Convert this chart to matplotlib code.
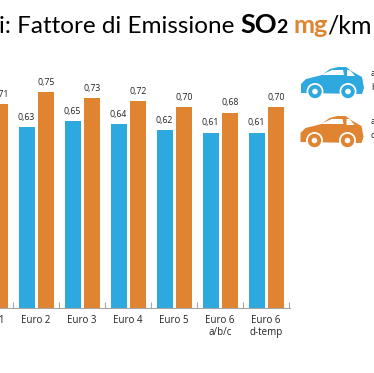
import matplotlib
matplotlib.use('Agg')
import matplotlib.pyplot as plt
import matplotlib.patches as patches
import numpy as np

W, H = 374, 373
BLUE = '#2EA9DF'
ORANGE = '#E08432'

categories = ['Euro 1', 'Euro 2', 'Euro 3', 'Euro 4', 'Euro 5', 'Euro 6\na/b/c', 'Euro 6\nd-temp']
benzina = [0.62, 0.63, 0.65, 0.64, 0.62, 0.61, 0.61]
diesel = [0.71, 0.75, 0.73, 0.72, 0.70, 0.68, 0.70]

fig = plt.figure(figsize=(W / 100, H / 100), dpi=100)
plt.rcParams['font.family'] = ['Open Sans', 'DejaVu Sans']

# chart area runs off the left edge, like the cropped original
ax = fig.add_axes([0, (H - 307.5) / H, 290.5 / W, 240 / H])
x = np.arange(len(categories))
bw = 16 / 46
ax.bar(x - 9.5 / 46, benzina, bw, color=BLUE)
ax.bar(x + 10 / 46, diesel, bw, color=ORANGE)
ax.set_xlim(0.217, 6.53)
ax.set_ylim(0, 240 / 286.7)

for i in range(len(categories)):
    ax.text(x[i] - 10 / 46, benzina[i] + 0.018, f'{benzina[i]:.2f}'.replace('.', ','),
            ha='center', va='bottom', fontsize=6.3, color='#222222')
    ax.text(x[i] + 10 / 46, diesel[i] + 0.018, f'{diesel[i]:.2f}'.replace('.', ','),
            ha='center', va='bottom', fontsize=6.3, color='#222222')

for s in ['top', 'left', 'right']:
    ax.spines[s].set_visible(False)
ax.spines['bottom'].set_color('#a6a6a6')
ax.set_yticks([])
ax.set_xticks(x + 0.5)
ax.set_xticklabels([])
ax.tick_params(axis='x', length=4, width=0.8, color='#a6a6a6', direction='in')
ax.patch.set_alpha(0)

# tick labels sit between the ticks
for i, c in enumerate(categories):
    ax.annotate(c, (x[i], 0), xytext=(0, -5.5), textcoords='offset points', ha='center', va='top',
                fontsize=7, color='#222222', linespacing=1.05, annotation_clip=False)

# overlay in pixel coordinates for title and car icons
ov = fig.add_axes([0, 0, 1, 1])
ov.set_xlim(0, W)
ov.set_ylim(H, 0)
ov.axis('off')
ov.patch.set_alpha(0)

title_parts = [('i: Fattore di Emissione ', 'black', 'normal', 17.5),
               ('SO', 'black', 'bold', 19.5), ('2 ', 'black', 'bold', 14),
               ('mg', ORANGE, 'bold', 18.2), ('/km', 'black', 'normal', 18)]
title_fonts = ['Lato', 'DejaVu Sans']
r = fig.canvas.get_renderer()


def text_w(txt, wgt, fs):
    # spaces at the end are not counted by the extent, so wrap with markers
    a = ov.text(0, 0, 'x' + txt + 'x', fontweight=wgt, fontsize=fs, family=title_fonts)
    b = ov.text(0, 0, 'xx', fontweight=wgt, fontsize=fs, family=title_fonts)
    w = a.get_window_extent(r).width - b.get_window_extent(r).width
    a.remove()
    b.remove()
    return w


cx = -1
for txt, col, wgt, fs in title_parts:
    ov.text(cx, 33, txt, color=col, fontweight=wgt, fontsize=fs, va='baseline', ha='left',
            family=title_fonts)
    cx += text_w(txt, wgt, fs)


def car(x0, y0, col):
    body = [(1, 26), (1, 17), (6, 12), (22, 8), (30, 2), (38, 0), (46, 0), (53, 5), (62, 10),
            (64, 21), (62, 27)]
    ov.add_patch(patches.Polygon([(x0 + a, y0 + b) for a, b in body], closed=True, color=col, lw=0))
    ov.add_patch(patches.Polygon([(x0 + a, y0 + b) for a, b in [(21, 8), (32, 3), (43, 3), (44, 8)]],
                                 closed=True, color='white', lw=0))
    ov.add_patch(patches.Polygon([(x0 + a, y0 + b) for a, b in [(47, 3), (50, 3), (55, 9), (47, 9)]],
                                 closed=True, color='white', lw=0))
    for wx in (15, 48):
        ov.add_patch(patches.Circle((x0 + wx, y0 + 24.5), 8.5, color='white', lw=0))
        ov.add_patch(patches.Circle((x0 + wx, y0 + 24.5), 6.7, color=col, lw=0))
        ov.add_patch(patches.Circle((x0 + wx, y0 + 24.5), 2.8, color='white', lw=0))


car(300, 67, BLUE)
car(299.5, 116, ORANGE)
ov.text(371, 74, 'a', fontsize=6.5, va='center', color='#222222')
ov.text(371, 87.5, 'b', fontsize=6.5, va='center', color='#222222')
ov.text(371, 122, 'a', fontsize=6.5, va='center', color='#222222')
ov.text(371, 135, 'd', fontsize=6.5, va='center', color='#222222')

fig.savefig('out.png', dpi=100)
